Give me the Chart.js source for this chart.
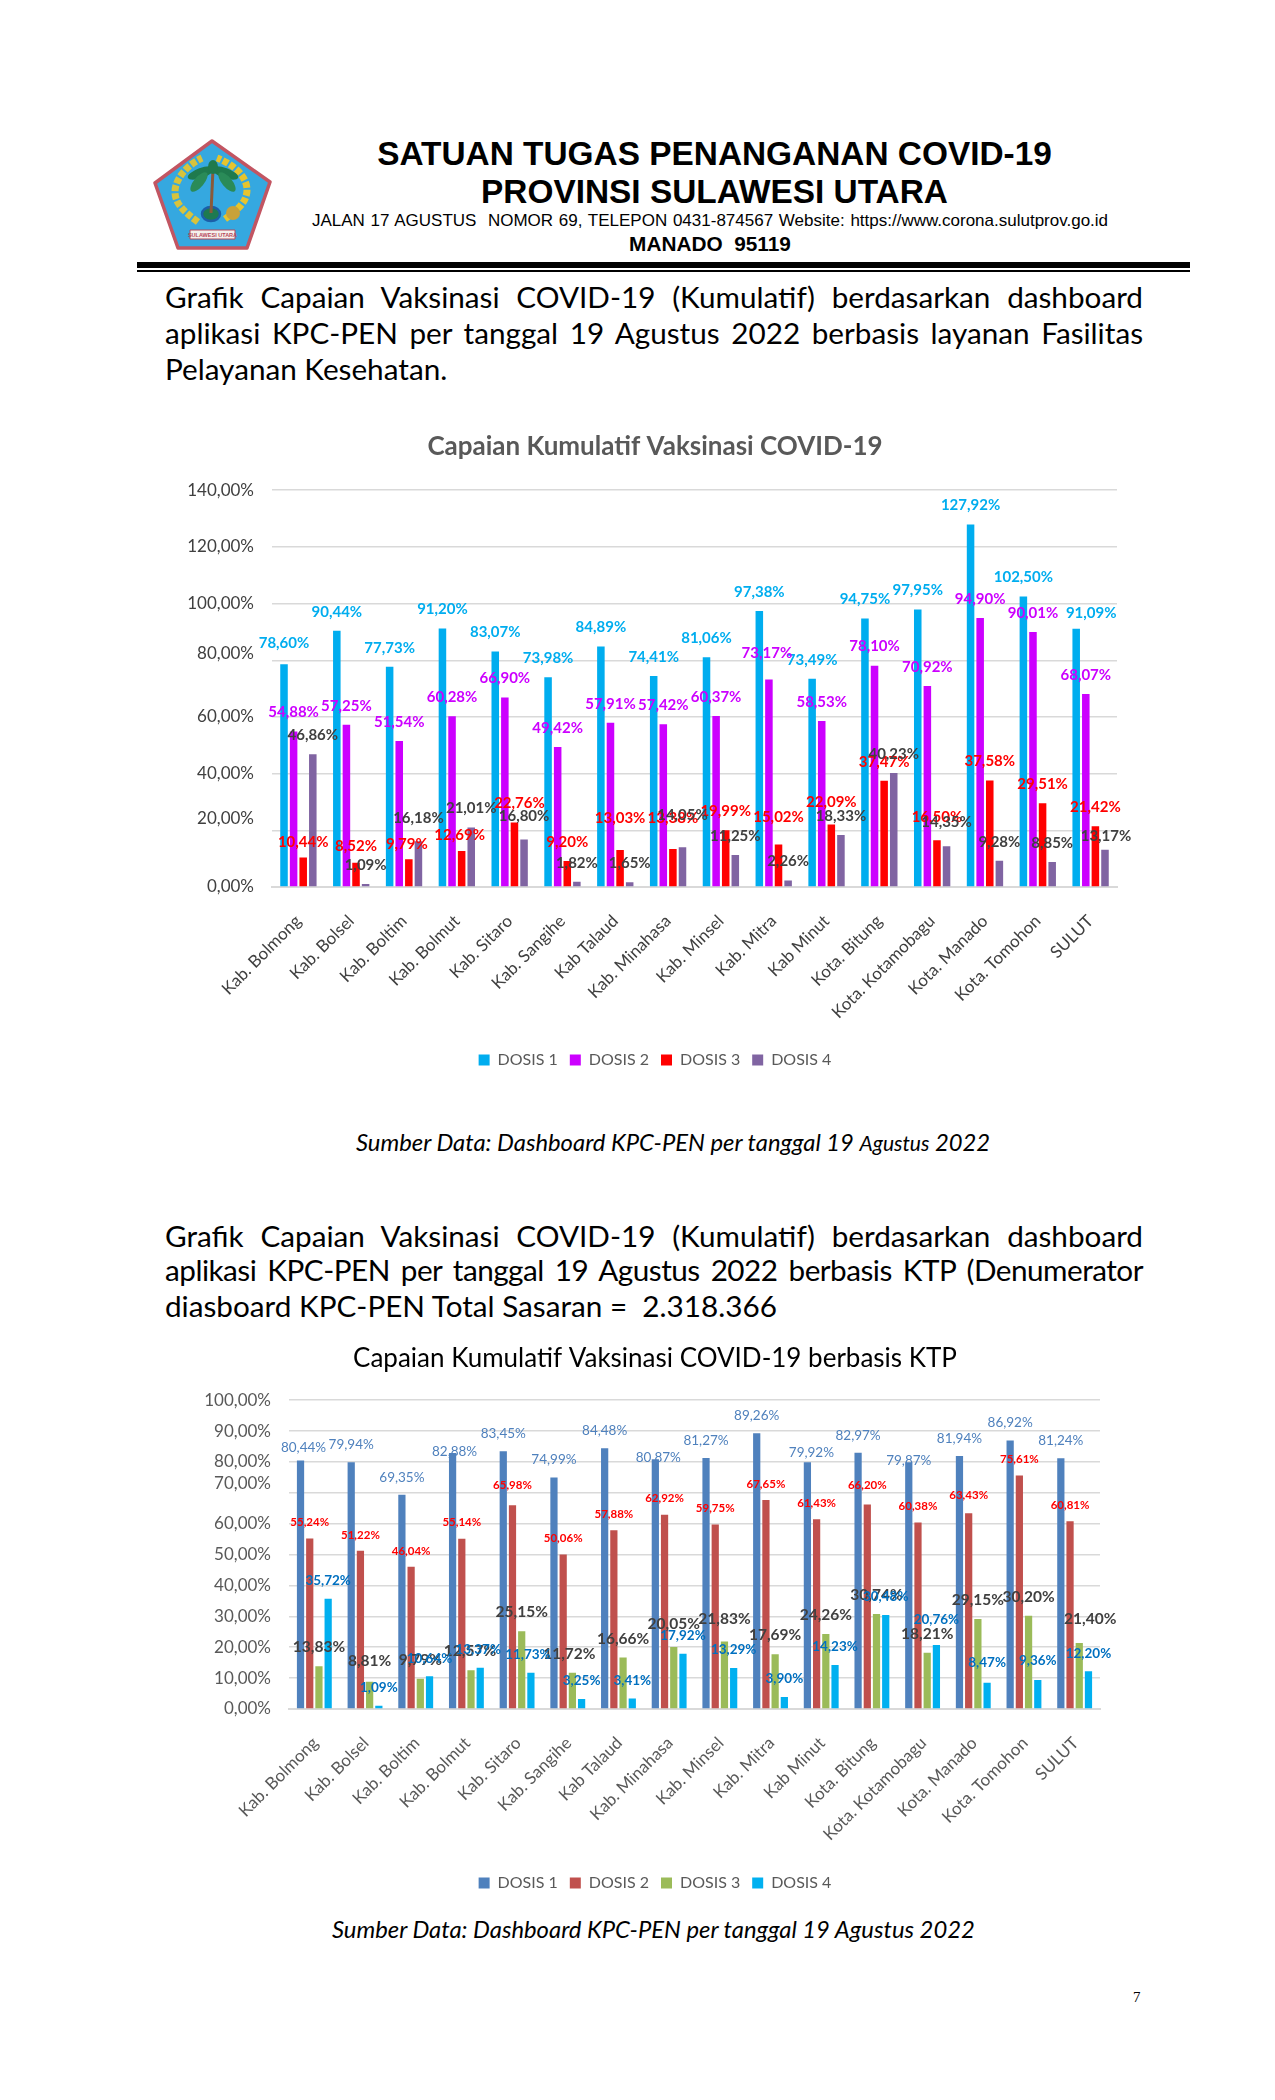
<!DOCTYPE html>
<html>
<head>
<meta charset="utf-8">
<title>Capaian Vaksinasi COVID-19</title>
<script src="https://cdn.jsdelivr.net/npm/chart.js@4"></script>
<style>
  html, body { margin: 0; background: #fff; }
  #page { position: relative; width: 1275px; height: 2100px; overflow: hidden; }
  .t { position: absolute; white-space: nowrap; color: #000; }
  .hd { font-family: "Liberation Sans", sans-serif; left: 0; text-align: center; }
  .p { font-family: Lato, sans-serif; font-size: 29.7px; line-height: 36px; height: 36px; left: 165px; width: 978px;
       white-space: normal; text-align: justify; text-align-last: justify; }
  .p.last { text-align-last: left; }
  .src { font-family: Lato, sans-serif; font-style: italic; font-size: 23.8px; line-height: 30px; }
  canvas { position: absolute; }
</style>
</head>
<body>
<div id="page">
  <svg style="position:absolute;left:145px;top:135px" width="130" height="120" viewBox="0 0 130 120">
    <polygon points="67,6 125,47 102,113 33,113 10,48" fill="#35A8E0" stroke="#C25562" stroke-width="3.5" stroke-linejoin="round"/>
    <path d="M53,87 C38,76 30,68 30,57 C30,44 42,30 57,23" fill="none" stroke="#D8C33C" stroke-width="7" stroke-dasharray="6 2"/>
    <path d="M80,84 C94,74 102,66 102,55 C102,42 90,30 72,23" fill="none" stroke="#E6C42E" stroke-width="7" stroke-dasharray="6 2"/>
    <circle cx="88" cy="78" r="7" fill="#C9A23A"/>
    <ellipse cx="66" cy="79" rx="9" ry="7" fill="#1E7A50" stroke="#1B5FA8" stroke-width="2.5"/>
    <path d="M66,78 L68,34" stroke="#8A5A3A" stroke-width="3"/>
    <ellipse cx="56" cy="38" rx="14" ry="5" transform="rotate(-20 56 38)" fill="#1F7A4D"/>
    <ellipse cx="80" cy="38" rx="14" ry="5" transform="rotate(20 80 38)" fill="#1F7A4D"/>
    <ellipse cx="54" cy="47" rx="12" ry="5" transform="rotate(-50 54 47)" fill="#2A8B58"/>
    <ellipse cx="82" cy="47" rx="12" ry="5" transform="rotate(50 82 47)" fill="#2A8B58"/>
    <ellipse cx="68" cy="32" rx="5" ry="7" fill="#1F7A4D"/>
    <path d="M45,95 H90 V104 H45 Z" fill="#F5F1EC" stroke="#B5485A"/>
    <text x="67.5" y="102" font-size="5.5" font-weight="700" text-anchor="middle" font-family="Liberation Sans" fill="#B5485A">SULAWESI UTARA</text>
  </svg>

  <div class="t hd" style="top:135px;width:1429px;font-size:33.4px;line-height:38px;font-weight:700">SATUAN TUGAS PENANGANAN COVID-19</div>
  <div class="t hd" style="top:173px;width:1429px;font-size:33.4px;line-height:38px;font-weight:700">PROVINSI SULAWESI UTARA</div>
  <div class="t hd" style="top:211px;width:1420px;font-size:17px;line-height:20px;word-spacing:1px">JALAN 17 AGUSTUS&nbsp; NOMOR 69, TELEPON 0431-874567 Website: https://www.corona.sulutprov.go.id</div>
  <div class="t hd" style="top:233px;width:1420px;font-size:20.8px;line-height:22px;font-weight:700">MANADO&nbsp; 95119</div>
  <div style="position:absolute;left:137px;top:262px;width:1053px;height:6px;background:#000"></div>
  <div style="position:absolute;left:137px;top:270px;width:1053px;height:1.5px;background:#000"></div>

  <div class="t p" style="top:279px">Grafik Capaian Vaksinasi COVID-19 (Kumulatif) berdasarkan dashboard</div>
  <div class="t p" style="top:315px">aplikasi KPC-PEN per tanggal 19 Agustus 2022 berbasis layanan Fasilitas</div>
  <div class="t p last" style="top:351px">Pelayanan Kesehatan.</div>

  <canvas id="chart1" width="1030" height="658" style="left:140px;top:420px"></canvas>

  <div class="t src" style="left:356px;top:1127px">Sumber Data: Dashboard KPC-PEN per tanggal 19 <span style="font-size:21px">Agustus</span> 2022</div>

  <div class="t p" style="top:1218px">Grafik Capaian Vaksinasi COVID-19 (Kumulatif) berdasarkan dashboard</div>
  <div class="t p" style="top:1252px;letter-spacing:-0.5px">aplikasi KPC-PEN per tanggal 19 Agustus 2022 berbasis KTP (Denumerator</div>
  <div class="t p last" style="top:1288px">diasboard KPC-PEN Total Sasaran =&nbsp; 2.318.366</div>

  <canvas id="chart2" width="960" height="566" style="left:175px;top:1335px"></canvas>

  <div class="t src" style="left:332px;top:1914px">Sumber Data: Dashboard KPC-PEN per tanggal 19 Agustus 2022</div>
  <div class="t" style="left:1133px;top:1989px;font-family:'Liberation Serif',serif;font-size:15px;line-height:16px">7</div>
</div>

<script>
// Categories
var wilayah = ['Kab. Bolmong', 'Kab. Bolsel', 'Kab. Boltim', 'Kab. Bolmut', 'Kab. Sitaro', 'Kab. Sangihe', 'Kab Talaud', 'Kab. Minahasa', 'Kab. Minsel', 'Kab. Mitra', 'Kab Minut', 'Kota. Bitung', 'Kota. Kotamobagu', 'Kota. Manado', 'Kota. Tomohon', 'SULUT']

// Chart 1 - fasilitas pelayanan kesehatan
var faskesDosis1 = [78.60, 90.44, 77.73, 91.20, 83.07, 73.98, 84.89, 74.41, 81.06, 97.38, 73.49, 94.75, 97.95, 127.92, 102.50, 91.09]
var faskesDosis2 = [54.88, 57.25, 51.54, 60.28, 66.90, 49.42, 57.91, 57.42, 60.37, 73.17, 58.53, 78.10, 70.92, 94.90, 90.01, 68.07]
var faskesDosis3 = [10.44, 8.52, 9.79, 12.69, 22.76, 9.20, 13.03, 13.38, 19.99, 15.02, 22.09, 37.47, 16.50, 37.58, 29.51, 21.42]
var faskesDosis4 = [46.86, 1.09, 16.18, 21.01, 16.80, 1.82, 1.65, 14.05, 11.25, 2.26, 18.33, 40.23, 14.35, 9.28, 8.85, 13.17]

// Chart 2 - berbasis KTP
var ktpDosis1 = [80.44, 79.94, 69.35, 82.88, 83.45, 74.99, 84.48, 80.87, 81.27, 89.26, 79.92, 82.97, 79.87, 81.94, 86.92, 81.24]
var ktpDosis2 = [55.24, 51.22, 46.04, 55.14, 65.98, 50.06, 57.88, 62.92, 59.75, 67.65, 61.43, 66.20, 60.38, 63.43, 75.61, 60.81]
var ktpDosis3 = [13.83, 8.81, 9.79, 12.57, 25.15, 11.72, 16.66, 20.05, 21.83, 17.69, 24.26, 30.74, 18.21, 29.15, 30.20, 21.40]
var ktpDosis4 = [35.72, 1.09, 10.64, 13.37, 11.73, 3.25, 3.41, 17.92, 13.29, 3.90, 14.23, 30.48, 20.76, 8.47, 9.36, 12.20]

var fmt = v => v.toFixed(2).replace('.', ',') + '%'

// the source document has hand-moved labels, [series, category, dx, dy]
var labelMoves1 = [
    [0, 0, 0, -2], [0, 15, 15, 3], [1, 9, -2, -7],
    [2, 0, 0, 4], [2, 1, 0, 2], [2, 2, -2, 4], [2, 3, -2, 3], [2, 4, 5, 0], [2, 6, 0, -13], [2, 7, 0, -12], [2, 9, 0, -8], [2, 10, 0, -3], [2, 12, 0, -4],
    [3, 2, 0, -4], [3, 4, 0, -4], [3, 7, 0, -13], [3, 12, 0, -5], [3, 15, 1, 5]
]
var labelMoves2 = [
    [0, 0, 3, 5], [0, 3, 2, 16], [0, 7, 3, 16], [0, 10, 4, 8], [0, 12, 0, 16],
    [1, 4, 0, -4], [1, 11, 0, -3], [1, 13, 0, -2],
    [2, 1, 0, -2], [2, 3, -1, 0], [2, 5, -3, 0], [2, 7, 0, -4], [2, 8, 0, -4], [2, 15, 11, -5],
    [3, 3, -2, 0], [3, 4, -3, 0], [3, 12, 0, -7], [3, 13, 0, -2], [3, 14, 0, -1]
]

// draws the value above each bar (no datalabels plugin available)
var barLabels = {
    id: 'barLabels',
    afterLayout(chart) {
        // y ticks are wider than the box kept symmetric for title and legend, stop them being clipped
        chart.scales.y.left = 0
    },
    afterDatasetsDraw(chart, args, opts) {
        var ctx = chart.ctx
        ctx.save()
        ctx.textAlign = 'center'
        ctx.textBaseline = 'middle'
        chart.data.datasets.forEach((ds, dsIdx) => {
            chart.getDatasetMeta(dsIdx).data.forEach((bar, i) => {
                var move = opts.moves.find(m => m[0] == dsIdx && m[1] == i) || [0, 0, 0, 0]
                ctx.font = ds.labelFont
                ctx.fillStyle = ds.labelColor
                ctx.fillText(fmt(ds.data[i]), bar.x + move[2], bar.y - ds.labelGap + move[3])
            })
        })
        ctx.restore()
    }
}

function makeChart(id, o) {
    new Chart(document.getElementById(id), {
        type: 'bar',
        plugins: [barLabels],
        data: {
            labels: wilayah,
            datasets: o.series.map(s => ({
                label: s.name,
                data: s.data,
                backgroundColor: s.color,
                labelColor: s.labelColor,
                labelFont: s.labelFont,
                labelGap: s.labelGap,
                categoryPercentage: 0.727,
                barPercentage: 0.785
            }))
        },
        options: {
            responsive: false,
            animation: false,
            layout: { padding: { left: o.sidePadding, right: o.sidePadding } },
            plugins: {
                barLabels: { moves: o.moves },
                tooltip: { enabled: false },
                title: {
                    display: true,
                    text: o.title,
                    color: o.titleColor,
                    font: { family: 'Lato', size: 26, weight: o.titleWeight },
                    padding: o.titlePadding
                },
                legend: {
                    position: 'bottom',
                    labels: {
                        color: '#595959',
                        font: { family: 'Lato', size: 16 },
                        boxWidth: 11,
                        boxHeight: 11,
                        padding: 12
                    }
                }
            },
            scales: {
                x: {
                    grid: { display: false },
                    border: { color: '#D9D9D9', width: 2 },
                    ticks: {
                        color: o.tickColor,
                        font: { family: 'Lato', size: 17 },
                        minRotation: 45,
                        maxRotation: 45,
                        autoSkip: false,
                        padding: 16,
                        labelOffset: o.xLabelOffset
                    },
                    afterFit: s => { s.height = o.xHeight }
                },
                y: {
                    min: 0,
                    max: o.max,
                    grid: { color: '#D9D9D9', lineWidth: 1.5, drawTicks: false },
                    border: { display: false },
                    ticks: {
                        stepSize: o.step,
                        autoSkip: false,
                        color: o.tickColor,
                        padding: 18,
                        // lifted tick labels as in the source: a blank second line moves the text up
                        callback: v => o.lift[v] ? [fmt(v), ''] : fmt(v),
                        font: c => ({
                            family: 'Lato',
                            size: 17,
                            lineHeight: c.tick && o.lift[c.tick.value] ? (o.lift[c.tick.value] * 2) + 'px' : 1.2
                        })
                    },
                    afterFit: s => { s.width = o.yWidth }
                }
            }
        }
    })
}

makeChart('chart1', {
    title: 'Capaian Kumulatif Vaksinasi COVID-19',
    titleColor: '#595959',
    titleWeight: 'bold',
    titlePadding: { top: 11, bottom: 28 },
    tickColor: '#404040',
    sidePadding: 53,
    yWidth: 79,
    xHeight: 153,
    xLabelOffset: 0,
    max: 140,
    step: 20,
    lift: { 80: 7, 20: 12 },
    moves: labelMoves1,
    series: [
        { name: 'DOSIS 1', data: faskesDosis1, color: '#00ADEF', labelColor: '#00ADEF', labelFont: 'bold 15px Lato', labelGap: 19 },
        { name: 'DOSIS 2', data: faskesDosis2, color: '#CC00FF', labelColor: '#CC00FF', labelFont: 'bold 15px Lato', labelGap: 19 },
        { name: 'DOSIS 3', data: faskesDosis3, color: '#FF0000', labelColor: '#FF0000', labelFont: 'bold 15px Lato', labelGap: 19 },
        { name: 'DOSIS 4', data: faskesDosis4, color: '#8064A2', labelColor: '#404040', labelFont: 'bold 15px Lato', labelGap: 19 }
    ]
})

makeChart('chart2', {
    title: 'Capaian Kumulatif Vaksinasi COVID-19 berbasis KTP',
    titleColor: '#000000',
    titleWeight: 'normal',
    titlePadding: { top: 8, bottom: 26 },
    tickColor: '#595959',
    sidePadding: 35,
    yWidth: 79,
    xHeight: 154,
    xLabelOffset: 1,
    max: 100,
    step: 10,
    lift: { 70: 9 },
    moves: labelMoves2,
    series: [
        { name: 'DOSIS 1', data: ktpDosis1, color: '#4F81BD', labelColor: '#4F81BD', labelFont: '13.5px Lato', labelGap: 17.5 },
        { name: 'DOSIS 2', data: ktpDosis2, color: '#C0504D', labelColor: '#FF0000', labelFont: 'bold 11.5px Lato', labelGap: 16 },
        { name: 'DOSIS 3', data: ktpDosis3, color: '#9BBB59', labelColor: '#404040', labelFont: 'bold 15.5px Lato', labelGap: 19 },
        { name: 'DOSIS 4', data: ktpDosis4, color: '#00B0F0', labelColor: '#0070C0', labelFont: 'bold 13.5px Lato', labelGap: 18 }
    ]
})
</script>
</body>
</html>
